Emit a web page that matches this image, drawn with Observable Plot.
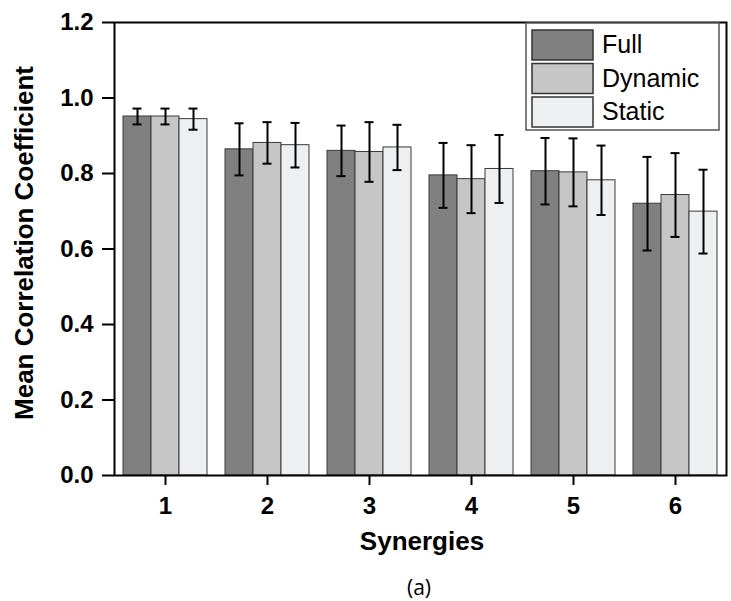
<!DOCTYPE html>
<html>
<head>
<meta charset="utf-8">
<script src="https://cdn.jsdelivr.net/npm/d3@7"></script>
<script src="https://cdn.jsdelivr.net/npm/@observablehq/plot@0.6"></script>
<style>
  body { margin: 0; background: #fff; }
  #chart { width: 731px; position: relative; }
  .caption { width: 731px; text-align: center; font-family: "Open Sans", "Liberation Sans", sans-serif; font-size: 21px; color: #000; margin-top: 8px; padding-left: 107px; box-sizing: border-box; }
</style>
</head>
<body>
<div id="chart"></div>
<div class="caption">(a)</div>
<script>
// ---- data ----
const groups = ["1", "2", "3", "4", "5", "6"];
const series = ["Full", "Dynamic", "Static"];
const fullMean = [0.951, 0.864, 0.860, 0.795, 0.806, 0.720];
const fullSD   = [0.021, 0.069, 0.067, 0.086, 0.088, 0.124];
const dynMean  = [0.951, 0.881, 0.857, 0.785, 0.803, 0.743];
const dynSD    = [0.021, 0.055, 0.079, 0.090, 0.090, 0.111];
const staMean  = [0.944, 0.875, 0.869, 0.812, 0.782, 0.699];
const staSD    = [0.028, 0.059, 0.060, 0.090, 0.092, 0.111];
const colors   = ["#808080", "#c6c6c6", "#eeeff1"];
const yTicks   = [0, 0.2, 0.4, 0.6, 0.8, 1.0, 1.2];
const xTitle = "Synergies";
const yTitle = "Mean Correlation Coefficient";

const rows = [];
[[fullMean, fullSD], [dynMean, dynSD], [staMean, staSD]].forEach(([m, s], i) =>
  groups.forEach((g, j) => rows.push({group: g, series: series[i], mean: m[j], sd: s[j]}))
);

const W = 731, H = 565;
const plot = Plot.plot({
  width: W, height: H,
  marginLeft: 112, marginRight: 3, marginTop: 22, marginBottom: 90,
  style: {fontFamily: "'Liberation Sans', Arial, sans-serif", background: "#fff", color: "#000", overflow: "visible"},
  fx: {domain: groups, paddingInner: 0, paddingOuter: 0, label: null, axis: null},
  x: {domain: series, paddingInner: 0, paddingOuter: 0.277, axis: null},
  y: {domain: [0, 1.2], label: null, axis: null},
  color: {domain: series, range: colors},
  marks: [
    Plot.barY(rows, {fx: "group", x: "series", y: "mean", fill: "series", stroke: "#3a3a3a", strokeWidth: 1}),
    Plot.ruleX(rows, {fx: "group", x: "series", y1: d => d.mean - d.sd, y2: d => d.mean + d.sd, stroke: "#000", strokeWidth: 2}),
    Plot.tickY(rows, {fx: "group", x: "series", y: d => d.mean + d.sd, stroke: "#000", strokeWidth: 2, inset: 9.5}),
    Plot.tickY(rows, {fx: "group", x: "series", y: d => d.mean - d.sd, stroke: "#000", strokeWidth: 2, inset: 9.5}),
    Plot.axisY({anchor: "left", ticks: yTicks, tickFormat: d3.format(".1f"), tickSize: 12, tickPadding: 9, strokeWidth: 2, label: null, fontSize: 24, fontWeight: "bold"}),
    Plot.axisFx({anchor: "bottom", tickSize: 10, tickPadding: 11, strokeWidth: 2, label: null, fontSize: 24, fontWeight: "bold"}),
    Plot.frame({facet: "super", stroke: "#000", strokeWidth: 2})
  ]
});
document.getElementById("chart").appendChild(plot);

const svg = d3.select(plot);
svg.selectAll("text").style("font-weight", "bold");
// axis titles
svg.append("text")
  .attr("x", 422).attr("y", 550)
  .attr("text-anchor", "middle")
  .style("font-family", "'Liberation Sans', Arial, sans-serif")
  .style("font-size", "26px").style("font-weight", "bold")
  .text(xTitle);
svg.append("text")
  .attr("transform", "translate(33,243) rotate(-90)")
  .attr("text-anchor", "middle")
  .style("font-family", "'Liberation Sans', Arial, sans-serif")
  .style("font-size", "26px").style("font-weight", "bold")
  .text(yTitle);

// legend
const color = plot.scale("color");
const cs = d3.scaleOrdinal(color.domain, color.range);
const lg = svg.append("g").attr("transform", "translate(526,23)");
lg.append("rect").attr("width", 193).attr("height", 107).attr("fill", "#fff").attr("stroke", "#555").attr("stroke-width", 1.5);
series.forEach((s, i) => {
  lg.append("rect").attr("x", 6).attr("y", 7 + i * 33.5).attr("width", 61).attr("height", 30)
    .attr("fill", cs(s)).attr("stroke", "#333").attr("stroke-width", 1.5);
  lg.append("text").attr("x", 76).attr("y", 30 + i * 33.5)
    .attr("text-anchor", "start")
    .style("font-family", "'Liberation Sans', Arial, sans-serif")
    .style("font-size", "25px").style("font-weight", "normal")
    .text(s);
});
</script>
</body>
</html>
